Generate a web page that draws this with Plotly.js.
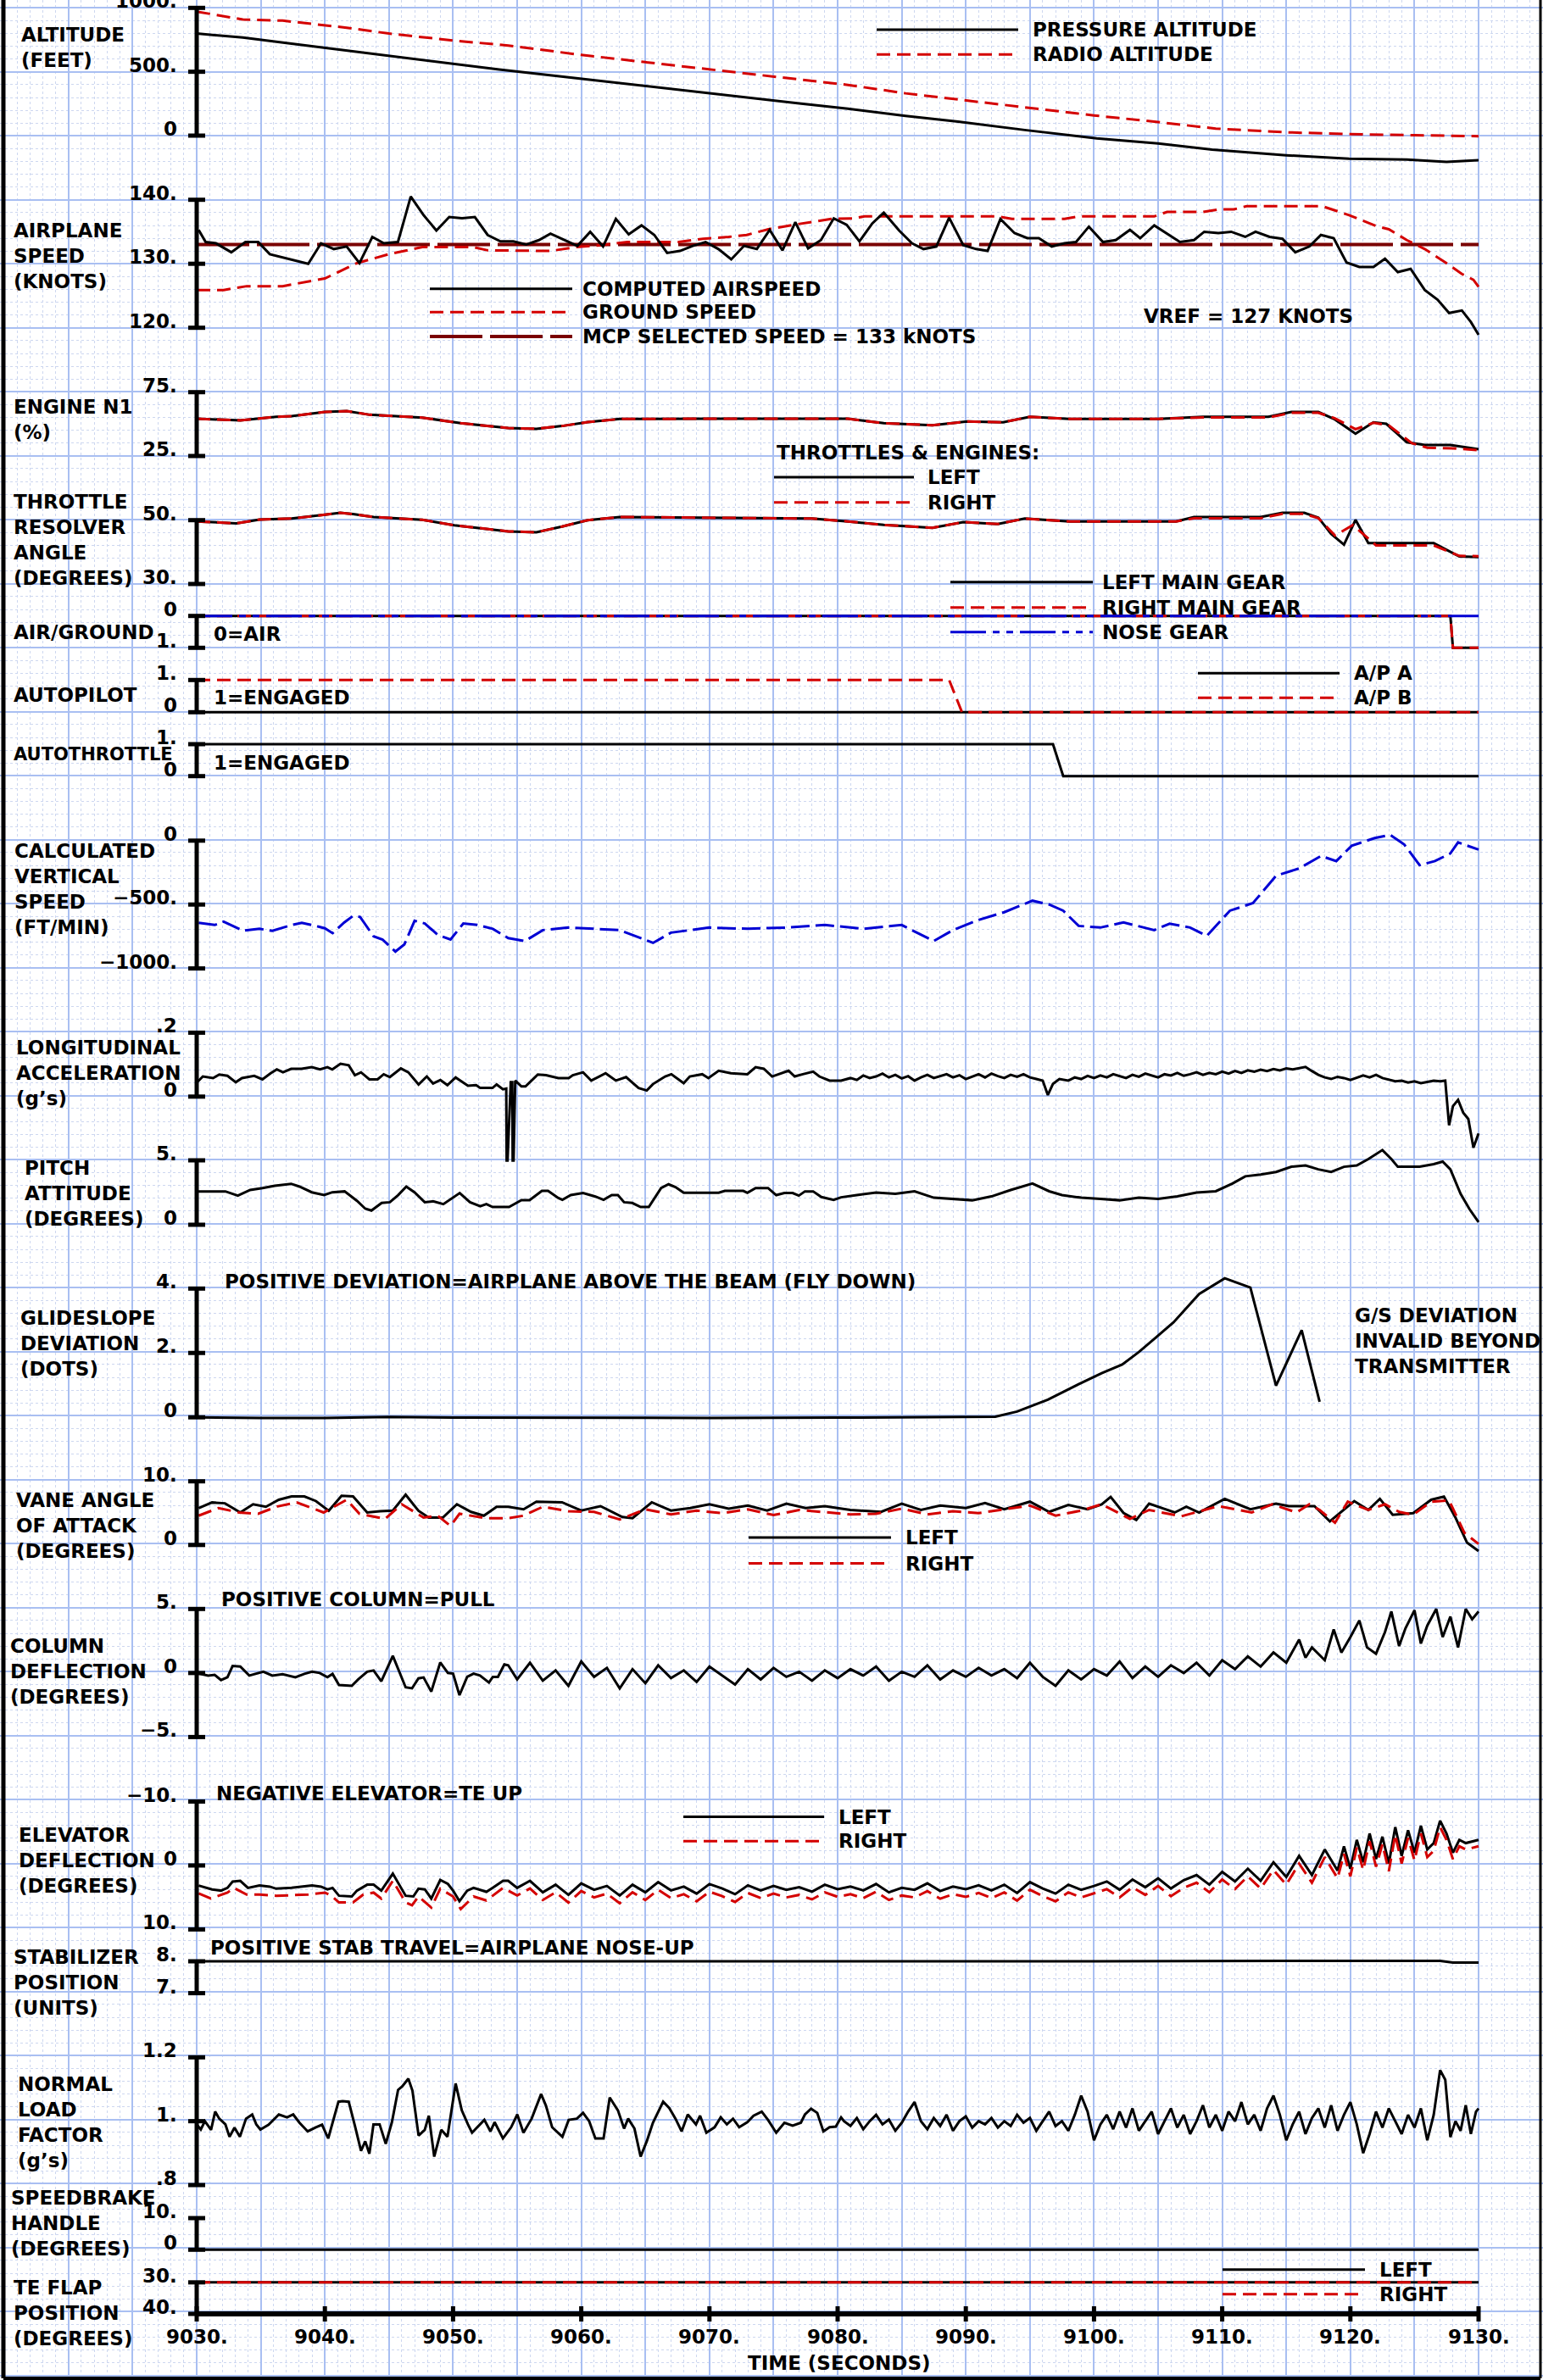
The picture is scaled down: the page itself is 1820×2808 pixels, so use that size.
<!DOCTYPE html>
<html><head><meta charset="utf-8">
<script src="https://cdn.plot.ly/plotly-3.0.1.min.js"></script>
<style>html,body{margin:0;padding:0;background:#fff}</style>
</head><body><div id="chart" style="width:1820px;height:2808px"></div>
<script>
// ================= DATA =================
const timeTicks = [9030,9040,9050,9060,9070,9080,9090,9100,9110,9120,9130];
const timeTickText = ['9030.','9040.','9050.','9060.','9070.','9080.','9090.','9100.','9110.','9120.','9130.'];

const altTicks=[0,500,1000], altTickText=['0','500.','1000.'];
const spdTicks=[120,130,140], spdTickText=['120.','130.','140.'];
const n1Ticks=[25,75], n1TickText=['25.','75.'];
const traTicks=[30,50], traTickText=['30.','50.'];
const agTicks=[0,1], agTickText=['0','1.'];
const apTicks=[0,1], apTickText=['0','1.'];
const atTicks=[0,1], atTickText=['0','1.'];
const vsTicks=[-1000,-500,0], vsTickText=['\u22121000.','\u2212500.','0'];
const laTicks=[0,0.2], laTickText=['0','.2'];
const piTicks=[0,5], piTickText=['0','5.'];
const gsTicks=[0,2,4], gsTickText=['0','2.','4.'];
const aoaTicks=[0,10], aoaTickText=['0','10.'];
const colTicks=[-5,0,5], colTickText=['\u22125.','0','5.'];
const eleTicks=[-10,0,10], eleTickText=['\u221210.','0','10.'];
const stabTicks=[7,8], stabTickText=['7.','8.'];
const nlTicks=[0.8,1,1.2], nlTickText=['.8','1.','1.2'];
const sbTicks=[0,10], sbTickText=['0','10.'];
const flapTicks=[30,40], flapTickText=['30.','40.'];

// [time, value]
const pressureAlt=[[9030,799],[9033.6,768],[9037,725],[9041.7,666],[9045,625],[9050,563],[9053.6,518],[9058,468],[9063,410],[9068,355],[9073,298],[9077,252],[9080.8,210],[9085.3,154],[9089.4,110],[9094.6,44],[9100.2,-22],[9105,-62],[9109.2,-110],[9115,-154],[9119.9,-181],[9124.4,-188],[9127.5,-205],[9130,-192]];
const radioAlt=[[9030,971],[9033.6,909],[9036.7,900],[9041.7,845],[9045,799],[9050,745],[9054.3,705],[9060,632],[9065,575],[9070,518],[9075,462],[9080.8,397],[9085.3,331],[9090.1,276],[9095.3,214],[9100,158],[9105,106],[9109.5,55],[9115,26],[9120,11],[9125,3],[9130,-5]];

const airspeed=[[9030.15,135.3],[9030.7,133.4],[9031.5,133.2],[9032.7,131.8],[9033.8,133.4],[9034.8,133.4],[9035.7,131.5],[9038.7,130.0],[9039.7,133.2],[9040.7,132.3],[9041.7,132.7],[9042.7,130.1],[9043.7,134.2],[9044.6,133.2],[9045.7,133.4],[9046.7,140.5],[9047.7,137.6],[9048.7,135.2],[9049.7,137.3],[9050.7,137.1],[9051.7,137.3],[9052.7,134.5],[9053.7,133.5],[9054.7,133.5],[9055.7,133.0],[9056.7,133.7],[9057.6,134.7],[9058.6,133.8],[9059.7,132.8],[9060.7,135.0],[9061.7,132.7],[9062.7,137.0],[9063.7,134.6],[9064.7,136.0],[9065.7,134.5],[9066.7,131.7],[9067.7,132.0],[9068.7,132.8],[9069.7,133.4],[9070.7,132.3],[9071.7,130.7],[9072.7,132.8],[9073.7,132.3],[9074.7,135.3],[9075.7,132.1],[9076.7,136.5],[9077.7,132.4],[9078.7,133.7],[9079.7,137.1],[9080.7,136.1],[9081.7,133.5],[9082.7,136.3],[9083.6,138.0],[9084.8,135.2],[9085.8,133.2],[9086.7,132.3],[9087.7,132.7],[9088.7,137.2],[9089.8,132.9],[9090.8,132.3],[9091.7,132.0],[9092.7,137.0],[9093.8,134.8],[9094.8,134.0],[9095.7,134.0],[9096.7,132.7],[9097.7,133.2],[9098.6,133.4],[9099.6,135.8],[9100.7,133.4],[9101.7,133.7],[9102.8,135.3],[9103.6,134.0],[9104.7,136.0],[9106.7,133.4],[9107.8,133.7],[9108.6,135.0],[9109.7,134.8],[9110.7,135.0],[9111.8,134.2],[9112.6,135.0],[9113.7,134.2],[9114.7,133.9],[9115.7,131.8],[9116.8,132.7],[9117.7,134.5],[9118.7,134.0],[9119.7,130.2],[9120.7,129.5],[9121.8,129.5],[9122.7,130.8],[9123.7,128.7],[9124.7,129.2],[9125.8,125.9],[9126.8,124.4],[9127.7,122.3],[9128.7,122.7],[9129.4,120.9],[9130,118.9]];
const groundSpeed=[[9030,125.9],[9032.1,125.9],[9033.9,126.5],[9036.7,126.5],[9040,127.7],[9042.5,130.1],[9045,131.5],[9047.6,132.6],[9051.6,132.6],[9052.7,132.1],[9057.6,132.0],[9059.6,132.6],[9061.6,132.9],[9063.6,133.4],[9067.6,133.4],[9069.5,133.9],[9071.5,134.2],[9072.9,134.5],[9074.6,135.4],[9076.6,136.1],[9079.5,137.0],[9081.2,137.1],[9082.1,137.4],[9092.5,137.4],[9093.6,137.0],[9097.7,137.0],[9098.8,137.4],[9104.7,137.4],[9105.7,138.1],[9108.5,138.1],[9109.8,138.5],[9110.9,138.5],[9111.9,139.0],[9117.8,139.0],[9119.9,137.6],[9122,135.9],[9123,135.4],[9124.4,133.7],[9125.8,132.3],[9127.5,130.1],[9128.7,128.4],[9129.6,127.5],[9130,126.4]];
const mcpSpeed=[[9030,133],[9130,133]];

const n1Left=[[9030,54.2],[9033.4,52.9],[9036.2,55.7],[9037.4,56.2],[9040,59.5],[9041.7,60.2],[9043.5,57.3],[9047.6,55.1],[9050.6,50.7],[9054.3,46.9],[9056.5,46.3],[9058.5,48.5],[9060.5,51.5],[9063,54],[9070,54.2],[9078,54.2],[9080.8,54.2],[9083.6,50.7],[9087.4,49.1],[9090.1,52],[9092.9,51.4],[9095,55.7],[9098.1,54],[9105,54],[9108.5,55.7],[9113.6,55.7],[9115.4,59.5],[9117.5,59.5],[9118.8,53.6],[9120.4,42.5],[9121.8,51.4],[9122.8,50.2],[9124.4,35.8],[9125.8,33.6],[9127.8,33.6],[9130,30.3]];
const n1Right=[[9030,54.2],[9033.4,52.9],[9036.2,55.7],[9037.4,56.2],[9040,59.5],[9041.7,60.2],[9043.5,57.3],[9047.6,55.1],[9050.6,50.7],[9054.3,46.9],[9056.5,46.3],[9058.5,48.5],[9060.5,51.5],[9063,54],[9070,54.2],[9078,54.2],[9080.8,54.2],[9083.6,50.7],[9087.4,49.1],[9090.1,52],[9092.9,51.4],[9095,55.7],[9098.1,54],[9105,54],[9108.5,55.2],[9113.6,55.2],[9115.4,58.8],[9117.5,58.8],[9118.8,54.5],[9120.4,46.0],[9121.8,51.0],[9123,49.0],[9124.8,35.0],[9126,31.5],[9128,31.0],[9130,29.5]];
const thrLeft=[[9030,49.6],[9033.1,49.0],[9034.9,50.2],[9037.4,50.5],[9040,51.7],[9041.2,52.3],[9042.2,51.9],[9043.8,51.0],[9047.6,50.1],[9050.1,48.4],[9054.3,46.5],[9056.5,46.2],[9058.5,48.0],[9060.5,50.0],[9063,51.0],[9070,50.8],[9078,50.5],[9080.8,49.6],[9083.6,48.5],[9087.4,47.6],[9089.8,49.4],[9092.5,48.8],[9094.6,50.5],[9098.1,49.6],[9106.4,49.6],[9107.8,51.0],[9113,51.0],[9114.7,52.3],[9116.4,52.3],[9117.5,50.8],[9118.5,45.7],[9119.5,42.3],[9120.4,50.1],[9121.4,42.8],[9126.5,42.8],[9128.5,38.6],[9130,38.4]];
const thrRight=[[9030,49.6],[9033.1,49.0],[9034.9,50.2],[9037.4,50.5],[9040,51.7],[9041.2,52.3],[9042.2,51.9],[9043.8,51.0],[9047.6,50.1],[9050.1,48.4],[9054.3,46.5],[9056.5,46.2],[9058.5,48.0],[9060.5,50.0],[9063,51.0],[9070,50.8],[9078,50.5],[9080.8,49.6],[9083.6,48.5],[9087.4,47.6],[9089.8,49.4],[9092.5,48.8],[9094.6,50.5],[9098.1,49.6],[9106.4,49.6],[9107.8,50.6],[9113,50.6],[9114.7,52.0],[9116.4,52.0],[9117.5,50.6],[9118.8,45.2],[9120.2,48.5],[9122,42.1],[9126.5,42.1],[9128.5,38.8],[9130,38.7]];

const leftMainGear=[[9030,0],[9127.8,0],[9128.0,1],[9130,1]];
const rightMainGear=[[9030,0],[9127.8,0],[9128.0,1],[9130,1]];
const noseGear=[[9030,0],[9130,0]];
const apA=[[9030,0],[9130,0]];
const apB=[[9030,1],[9088.7,1],[9089.7,0],[9130,0]];
const autothrottle=[[9030,1],[9096.8,1],[9097.6,0],[9130,0]];

const vertSpeed=[[9030.15,-643],[9031.4,-660],[9032.1,-634],[9033.6,-704],[9034.9,-690],[9035.9,-706],[9037.4,-660],[9038.2,-643],[9039.5,-673],[9040.0,-686],[9040.6,-724],[9041.5,-641],[9042.2,-589],[9042.75,-597],[9043.8,-749],[9044.5,-774],[9045.5,-868],[9046.2,-812],[9047.0,-627],[9047.8,-648],[9048.8,-737],[9049.8,-774],[9050.8,-648],[9051.9,-660],[9053.1,-690],[9054.3,-762],[9055.6,-786],[9057,-700],[9059,-680],[9061,-690],[9063,-700],[9065.6,-800],[9067,-720],[9070,-680],[9073,-690],[9076,-680],[9079,-660],[9082,-690],[9085,-660],[9087.5,-786],[9089,-700],[9091,-620],[9093,-560],[9095.2,-470],[9096.5,-500],[9097.6,-548],[9098.8,-667],[9100.5,-680],[9102.3,-640],[9104.7,-700],[9105.9,-650],[9107.5,-680],[9108.8,-745],[9109.4,-680],[9110.6,-548],[9112.4,-489],[9114.2,-275],[9116,-218],[9117.7,-120],[9118.9,-160],[9120.1,-40],[9121.9,20],[9123.1,45],[9124.2,-30],[9125.4,-192],[9126.6,-160],[9127.8,-100],[9128.4,-14],[9130,-70]];

const longAccel=[[9030,0.045],[9030.16,0.050],[9030.48,0.063],[9031.28,0.058],[9031.76,0.069],[9032.4,0.065],[9033.05,0.045],[9033.53,0.058],[9034.49,0.065],[9035.13,0.054],[9035.77,0.073],[9036.25,0.085],[9036.73,0.076],[9037.37,0.087],[9038.18,0.087],[9038.98,0.092],[9039.62,0.085],[9040.2,0.092],[9040.58,0.085],[9041.22,0.103],[9041.86,0.098],[9042.34,0.067],[9042.82,0.076],[9043.47,0.054],[9044.11,0.054],[9044.59,0.070],[9045.07,0.061],[9045.93,0.088],[9046.51,0.076],[9047.31,0.038],[9047.95,0.063],[9048.44,0.041],[9049.01,0.052],[9049.56,0.036],[9050.2,0.060],[9051.16,0.034],[9051.8,0.036],[9052.12,0.027],[9053.08,0.027],[9053.4,0.038],[9053.89,0.023],[9054.15,0.025],[9054.18,-0.2],[9054.25,-0.2],[9054.5,0.045],[9054.62,0.045],[9054.65,-0.2],[9054.72,-0.2],[9054.85,0.050],[9055.33,0.032],[9055.65,0.032],[9056.61,0.069],[9057.25,0.067],[9058.21,0.058],[9059.02,0.058],[9059.34,0.067],[9060.14,0.076],[9060.78,0.050],[9061.9,0.073],[9062.7,0.050],[9063.5,0.061],[9064.47,0.027],[9065.11,0.019],[9065.59,0.039],[9066.55,0.063],[9067.03,0.070],[9067.99,0.042],[9068.47,0.063],[9069.44,0.070],[9069.92,0.058],[9070.72,0.081],[9071.68,0.073],[9072.96,0.070],[9073.6,0.092],[9074.24,0.087],[9074.89,0.063],[9076.17,0.081],[9076.65,0.063],[9077.29,0.070],[9078.09,0.078],[9078.57,0.063],[9079.37,0.050],[9080.27,0.050],[9081,0.058],[9081.5,0.052],[9082,0.066],[9082.5,0.058],[9083,0.063],[9083.5,0.072],[9084,0.060],[9084.5,0.068],[9085,0.057],[9085.5,0.064],[9086,0.050],[9086.5,0.060],[9087,0.068],[9087.5,0.058],[9088,0.065],[9088.5,0.070],[9089,0.060],[9089.5,0.067],[9090,0.055],[9090.5,0.063],[9091,0.070],[9091.5,0.060],[9092,0.072],[9092.5,0.064],[9093,0.058],[9093.5,0.068],[9094,0.062],[9094.5,0.070],[9095,0.060],[9095.5,0.055],[9096,0.050],[9096.4,0.005],[9096.8,0.040],[9097.3,0.055],[9098,0.050],[9098.5,0.060],[9099,0.055],[9099.5,0.065],[9100,0.058],[9100.5,0.066],[9101,0.060],[9101.5,0.070],[9102,0.064],[9102.5,0.058],[9103,0.068],[9103.5,0.062],[9104,0.072],[9104.5,0.065],[9105,0.060],[9105.5,0.070],[9106,0.066],[9106.5,0.074],[9107,0.065],[9107.5,0.070],[9108,0.076],[9108.5,0.068],[9109,0.074],[9109.5,0.070],[9110,0.078],[9110.5,0.072],[9111,0.080],[9111.5,0.074],[9112,0.082],[9112.5,0.078],[9113,0.084],[9113.5,0.080],[9114,0.086],[9114.5,0.082],[9115,0.088],[9115.5,0.085],[9116,0.090],[9116.5,0.093],[9117,0.080],[9117.5,0.068],[9118,0.060],[9118.5,0.055],[9119,0.062],[9119.5,0.058],[9120,0.052],[9120.5,0.060],[9121,0.066],[9121.5,0.060],[9122,0.068],[9122.5,0.058],[9123,0.052],[9123.5,0.048],[9124,0.050],[9124.5,0.044],[9125,0.048],[9125.5,0.042],[9126,0.046],[9126.5,0.050],[9127,0.048],[9127.4,0.050],[9127.7,-0.09],[9128.0,-0.03],[9128.4,-0.01],[9128.8,-0.05],[9129.2,-0.07],[9129.6,-0.16],[9130,-0.115]];

const pitch=[[9030,2.59],[9032.24,2.59],[9033.21,2.26],[9034.17,2.70],[9035.13,2.85],[9036.09,3.03],[9037.37,3.18],[9038.02,2.96],[9038.98,2.52],[9039.94,2.30],[9040.58,2.52],[9041.54,2.59],[9042.5,1.86],[9043.15,1.25],[9043.63,1.10],[9044.43,1.69],[9045.07,1.75],[9045.71,2.30],[9046.35,2.96],[9046.99,2.52],[9047.79,1.75],[9048.44,1.82],[9049.24,1.60],[9050.52,2.46],[9051.32,1.75],[9052.12,1.43],[9052.6,1.60],[9053.08,1.38],[9054.37,1.38],[9055.33,1.91],[9055.97,1.91],[9056.93,2.63],[9057.41,2.63],[9058.21,2.08],[9058.53,1.93],[9059.18,2.30],[9060.14,2.46],[9061.1,2.19],[9061.74,1.93],[9062.38,2.30],[9062.86,2.30],[9063.34,1.75],[9063.98,1.69],[9064.63,1.38],[9065.27,1.38],[9066.23,2.85],[9066.81,3.14],[9067.35,2.92],[9067.99,2.48],[9070.72,2.48],[9071.2,2.63],[9072.64,2.63],[9072.96,2.48],[9073.6,2.85],[9074.57,2.85],[9075.21,2.30],[9075.85,2.46],[9076.49,2.46],[9076.97,2.26],[9077.45,2.59],[9078.09,2.59],[9078.73,2.15],[9079.69,1.93],[9080.27,2.13],[9081.5,2.3],[9083,2.5],[9084.5,2.4],[9086,2.6],[9087.5,2.1],[9089,2.0],[9090.5,1.9],[9092,2.2],[9093.5,2.7],[9095.2,3.2],[9096.5,2.6],[9097.5,2.3],[9099,2.1],[9100.5,2.0],[9102,1.9],[9103.5,2.1],[9105,2.0],[9106.5,2.2],[9108,2.5],[9109.5,2.6],[9110.8,3.2],[9111.8,3.76],[9113,3.9],[9114.2,4.1],[9115.4,4.5],[9116.5,4.6],[9117.5,4.3],[9118.5,4.1],[9119.5,4.5],[9120.5,4.6],[9121.4,5.1],[9122.5,5.8],[9123.2,5.1],[9123.7,4.5],[9125.4,4.5],[9126.5,4.7],[9127.2,4.9],[9127.8,4.3],[9128.6,2.4],[9129.3,1.2],[9130,0.2]];

const glideslope=[[9030,0],[9035,-0.02],[9040,-0.02],[9045,0.01],[9050,-0.01],[9060,-0.02],[9070,-0.02],[9080,-0.01],[9090,0.0],[9092.3,0.02],[9094,0.18],[9096.4,0.55],[9098.8,1.03],[9100.6,1.37],[9102.2,1.64],[9103.5,2.03],[9104.8,2.47],[9106.2,2.95],[9108.2,3.83],[9110.2,4.32],[9112.2,4.03],[9114.2,0.98],[9116.2,2.71],[9117.6,0.48]];

const aoaLeft=[[9030.15,5.79],[9031.2,6.68],[9032.2,6.55],[9033.4,5.1],[9034.4,6.4],[9035.4,6.0],[9036.4,7.1],[9037.4,7.63],[9038.4,7.63],[9039.3,6.9],[9040.3,5.37],[9041.3,7.72],[9042.2,7.63],[9043.3,5.1],[9044.3,5.3],[9045.3,5.4],[9046.3,7.9],[9047.3,5.37],[9048.1,4.3],[9049.2,4.3],[9050.3,6.4],[9051.4,5.2],[9052.4,4.6],[9053.4,6.0],[9054.3,6.0],[9055.5,5.6],[9056.5,6.8],[9058.5,6.7],[9060,5.4],[9061.5,6.1],[9063.2,4.4],[9064,4.2],[9065.5,6.7],[9067,5.4],[9068.5,5.8],[9070,6.4],[9071.5,5.7],[9073,6.2],[9074.5,5.4],[9076,6.5],[9077.5,5.8],[9079,6.1],[9081,5.5],[9083.4,5.2],[9085,6.5],[9086.5,5.5],[9088,6.2],[9090,5.8],[9091.5,6.6],[9093,5.6],[9095,6.8],[9096.5,5.2],[9098,6.3],[9099.5,5.6],[9100.6,6.37],[9101.3,7.56],[9102.3,5.03],[9103.3,3.92],[9104.3,6.5],[9106.3,5.1],[9107.2,6.0],[9108.2,5.1],[9110.2,7.25],[9112.2,5.6],[9114.2,6.5],[9115.2,6.1],[9117.2,6.1],[9118.4,3.7],[9120.3,6.9],[9121.4,5.5],[9122.3,7.25],[9123.3,4.75],[9124.9,5.0],[9126.3,7.1],[9127.3,7.6],[9128.2,4.3],[9129.1,0.37],[9130,-0.96]];
const aoaRight=[[9030.15,4.6],[9031.7,5.8],[9033.3,5.1],[9034.8,4.9],[9036.3,6.05],[9037.8,6.7],[9039.9,5.1],[9041.7,7.1],[9042.7,4.9],[9044.7,4.1],[9046,6.4],[9047.7,4.3],[9048.8,4.6],[9049.8,3.0],[9050.5,4.9],[9052.6,4.2],[9054.3,4.2],[9055.5,4.6],[9057,6.0],[9059,5.3],[9061,5.2],[9063,4.0],[9065,5.6],[9067,4.8],[9069,5.4],[9071,5.0],[9073,5.6],[9075,4.7],[9077,5.5],[9079,5.1],[9081,4.8],[9083,4.9],[9085,5.7],[9087,4.8],[9089,5.3],[9091,5.0],[9093,5.6],[9095,6.2],[9097,4.6],[9099,5.4],[9100.6,6.4],[9102.8,4.1],[9104.3,5.5],[9106.8,4.5],[9109.7,6.1],[9112.3,5.1],[9113.9,6.4],[9115.8,5.1],[9116.8,6.4],[9117.6,5.5],[9118.8,3.5],[9119.8,6.8],[9121.4,5.5],[9122.7,6.4],[9123.8,5.2],[9124.9,4.75],[9126.3,6.8],[9127.7,7.0],[9128.9,1.9],[9130,0.15]];

const column=[[9030.1,-0.03],[9030.9,-0.2],[9031.4,-0.15],[9031.9,-0.55],[9032.4,-0.33],[9032.8,0.55],[9033.4,0.5],[9034.1,-0.2],[9035.2,0.1],[9035.9,-0.2],[9036.7,-0.1],[9037.7,-0.33],[9038.4,-0.07],[9039.0,0.1],[9039.6,0.0],[9040.2,-0.33],[9040.6,-0.07],[9041.1,-0.94],[9042.1,-1.0],[9042.6,-0.5],[9043.3,0.1],[9043.8,0.2],[9044.4,-0.65],[9045.3,1.34],[9046.3,-1.12],[9046.8,-1.2],[9047.3,-0.42],[9047.7,-0.35],[9048.3,-1.46],[9049.0,0.82],[9049.6,0.0],[9050.0,-0.05],[9050.5,-1.73],[9051.1,-0.3],[9051.6,-0.05],[9052.1,-0.2],[9052.8,-0.75],[9053.1,-0.3],[9053.5,-0.3],[9054.0,0.67],[9054.3,0.6],[9055,-0.5],[9056,0.8],[9057,-0.6],[9058,0.2],[9059,-1.0],[9060,0.9],[9061,-0.3],[9062,0.4],[9063,-1.2],[9064,0.3],[9065,-0.8],[9066,0.6],[9067,-0.4],[9068,0.2],[9069,-0.7],[9070,0.5],[9071,-0.2],[9072,-0.9],[9073,0.3],[9074,-0.5],[9075,0.4],[9076,-0.3],[9077,0.1],[9078,-0.6],[9079,0.2],[9080,-0.4],[9081,0.3],[9082,-0.2],[9083,0.5],[9084,-0.6],[9085,0.1],[9086,-0.3],[9087,0.6],[9088,-0.5],[9089,0.2],[9090,-0.3],[9091,0.4],[9092,-0.2],[9093,0.3],[9094,-0.4],[9095,0.8],[9096,-0.3],[9097,-1.0],[9098,0.2],[9099,-0.5],[9100,0.3],[9101,-0.2],[9102,0.9],[9103,-0.4],[9104,0.5],[9105,-0.3],[9106,0.6],[9107,0.0],[9108,0.8],[9109,-0.2],[9110,1.0],[9111,0.3],[9112,1.3],[9113,0.5],[9114,1.6],[9115,0.8],[9116,2.6],[9116.5,1.2],[9117,2.0],[9118,1.0],[9118.7,3.4],[9119.3,1.6],[9120,2.8],[9120.7,4.1],[9121.3,2.0],[9122,1.5],[9122.7,3.2],[9123.2,4.8],[9123.8,2.1],[9124.3,3.5],[9125,4.9],[9125.5,2.3],[9126,3.7],[9126.7,5.0],[9127.2,2.8],[9127.8,4.4],[9128.4,2.0],[9129,5.0],[9129.5,4.2],[9130,4.8]];

const elevLeft=[[9030.15,3.13],[9030.9,3.5],[9031.2,3.75],[9031.9,3.93],[9032.4,3.5],[9032.8,2.52],[9033.4,2.4],[9034.0,3.5],[9034.9,3.13],[9035.7,3.31],[9036.2,3.63],[9037.4,3.5],[9039.0,3.13],[9039.7,3.31],[9040.2,3.75],[9040.6,3.5],[9041.1,4.73],[9042.1,4.85],[9042.5,3.93],[9043.3,3.0],[9043.8,3.0],[9044.4,3.93],[9045.3,1.28],[9046.3,4.73],[9046.9,4.85],[9047.3,3.63],[9047.8,3.75],[9048.3,5.17],[9049.0,2.26],[9049.6,2.89],[9050.0,3.93],[9050.5,5.59],[9051.1,3.93],[9051.6,3.5],[9052.6,4.12],[9053.1,3.5],[9053.9,2.4],[9054.3,2.4],[9055,3.5],[9056,2.4],[9057,4.2],[9058,3.0],[9059,4.6],[9060,2.8],[9061,3.8],[9062,3.2],[9063,4.7],[9064,3.0],[9065,4.2],[9066,2.6],[9067,3.9],[9068,3.3],[9069,4.4],[9070,2.9],[9071,3.6],[9072,4.5],[9073,3.1],[9074,3.9],[9075,3.2],[9076,3.8],[9077,3.4],[9078,4.1],[9079,3.0],[9080,3.7],[9081,3.3],[9082,3.9],[9083,2.9],[9084,4.2],[9085,3.5],[9086,3.8],[9087,2.8],[9088,4.0],[9089,3.3],[9090,3.7],[9091,3.1],[9092,3.9],[9093,3.0],[9094,4.3],[9095,2.6],[9096,3.6],[9097,4.4],[9098,3.0],[9099,3.8],[9100,3.2],[9101,2.5],[9102,3.8],[9103,2.2],[9104,3.4],[9105,2.0],[9106,3.6],[9107,2.3],[9108,1.5],[9109,3.0],[9110,1.0],[9111,2.5],[9112,0.5],[9113,2.4],[9114,-0.5],[9115,1.8],[9116,-1.5],[9117,1.5],[9118,-2.5],[9119,0.8],[9119.5,-3.0],[9120,0.5],[9120.5,-4.0],[9121,-0.5],[9121.5,-5.0],[9122,-1.0],[9122.5,-4.5],[9123,-0.3],[9123.5,-6.0],[9124,-1.5],[9124.5,-5.5],[9125,-2.0],[9125.5,-6.2],[9126,-2.5],[9126.5,-3.5],[9127,-7.0],[9127.5,-5.0],[9128,-2.0],[9128.5,-4.0],[9129,-3.5],[9130,-4.0]];
const elevRight=[[9030.15,4.36],[9031.1,5.17],[9032.4,4.24],[9032.9,3.5],[9033.9,4.55],[9034.9,4.55],[9036.2,4.73],[9038.7,4.55],[9040.0,4.24],[9040.5,4.73],[9041.1,5.78],[9042.2,5.78],[9043.0,4.55],[9043.8,4.24],[9044.4,5.17],[9045.3,2.4],[9046.3,5.78],[9046.8,6.22],[9047.3,4.85],[9048.3,6.58],[9049.0,3.63],[9050.0,4.85],[9050.6,6.82],[9051.6,4.85],[9052.6,5.47],[9053.9,3.5],[9055,4.7],[9056,3.6],[9057,5.4],[9058,4.2],[9059,5.8],[9060,4.0],[9061,5.0],[9062,4.4],[9063,5.9],[9064,4.2],[9065,5.4],[9066,3.8],[9067,5.1],[9068,4.5],[9069,5.6],[9070,4.1],[9071,4.8],[9072,5.7],[9073,4.3],[9074,5.1],[9075,4.4],[9076,5.0],[9077,4.6],[9078,5.3],[9079,4.2],[9080,4.9],[9081,4.5],[9082,5.1],[9083,4.1],[9084,5.4],[9085,4.7],[9086,5.0],[9087,4.0],[9088,5.2],[9089,4.5],[9090,4.9],[9091,4.3],[9092,5.1],[9093,4.2],[9094,5.5],[9095,3.8],[9096,4.8],[9097,5.6],[9098,4.2],[9099,5.0],[9100,4.4],[9101,3.7],[9102,5.0],[9103,3.4],[9104,4.6],[9105,3.2],[9106,4.8],[9107,3.5],[9108,2.7],[9109,4.2],[9110,2.2],[9111,3.7],[9112,1.7],[9113,3.6],[9114,0.7],[9115,3.0],[9116,-0.3],[9117,2.7],[9118,-1.3],[9119,2.0],[9119.5,-1.8],[9120,1.7],[9120.5,-2.8],[9121,0.7],[9121.5,-3.8],[9122,0.2],[9122.5,-3.3],[9123,0.9],[9123.5,-4.8],[9124,-0.3],[9124.5,-4.3],[9125,-0.8],[9125.5,-5.0],[9126,-1.3],[9126.5,-2.3],[9127,-6.0],[9127.5,-4.0],[9128,-1.0],[9128.5,-3.0],[9129,-2.5],[9130,-3.0]];

const stabilizer=[[9030,8.0],[9050,8.0],[9060,7.99],[9075,7.99],[9100,8.0],[9115,8.01],[9125,8.0],[9127,8.01],[9128,7.96],[9130,7.96]];

const normalLoad=[[9030.0,0.990],[9030.32,0.974],[9030.64,1.0],[9031.12,0.973],[9031.44,1.03],[9031.76,1.008],[9032.24,0.99],[9032.56,0.951],[9032.95,0.98],[9033.37,0.951],[9033.85,1.008],[9034.33,1.021],[9034.65,0.99],[9034.97,0.974],[9035.61,0.989],[9036.41,1.021],[9037.05,1.012],[9037.53,1.021],[9038.02,0.995],[9038.66,0.968],[9039.3,0.981],[9039.78,0.989],[9040.26,0.946],[9041.06,1.061],[9041.38,1.063],[9041.86,1.061],[9042.34,0.986],[9042.82,0.907],[9043.15,0.937],[9043.47,0.898],[9043.79,0.99],[9044.27,0.99],[9044.75,0.929],[9045.23,0.997],[9045.71,1.098],[9046.03,1.109],[9046.51,1.133],[9046.83,1.096],[9047.31,0.955],[9047.79,0.973],[9048.11,1.017],[9048.53,0.889],[9049.08,0.973],[9049.56,0.951],[9050.2,1.118],[9050.68,1.034],[9051.16,0.99],[9051.48,0.964],[9052.44,1.004],[9052.92,0.968],[9053.24,0.997],[9053.89,0.946],[9054.53,0.981],[9055.01,1.021],[9055.49,0.964],[9056.13,1.008],[9056.87,1.085],[9057.25,1.048],[9057.73,0.981],[9058.53,0.951],[9059.02,1.004],[9059.66,1.008],[9060.14,1.026],[9060.62,1.0],[9061.1,0.946],[9061.74,0.946],[9062.22,1.074],[9062.86,1.034],[9063.34,0.977],[9063.66,1.008],[9064.15,0.977],[9064.63,0.889],[9065.11,0.937],[9065.59,0.995],[9066.39,1.061],[9066.87,1.041],[9067.35,1.008],[9067.83,0.968],[9068.31,1.021],[9068.95,0.99],[9069.27,1.017],[9069.76,0.964],[9070.4,0.981],[9070.88,1.012],[9071.36,0.99],[9071.84,1.008],[9072.32,0.981],[9072.96,0.997],[9073.44,1.017],[9074.08,1.030],[9074.57,1.004],[9075.21,0.964],[9075.85,0.995],[9076.49,0.986],[9077.13,0.995],[9077.45,1.021],[9077.93,1.039],[9078.41,1.026],[9078.89,0.968],[9079.37,0.981],[9079.86,0.983],[9080.27,1.012],[9080.5,1.0],[9081,0.985],[9081.5,1.01],[9082,0.975],[9082.5,1.0],[9083,1.02],[9083.5,0.99],[9084,1.005],[9084.5,0.97],[9085,0.995],[9085.5,1.03],[9086,1.06],[9086.5,1.0],[9087,0.975],[9087.5,1.01],[9088,0.985],[9088.5,1.02],[9089,0.97],[9089.5,1.0],[9090,1.015],[9090.5,0.98],[9091,1.0],[9091.5,0.99],[9092,1.01],[9092.5,0.98],[9093,1.0],[9093.5,0.985],[9094,1.02],[9094.5,0.995],[9095,1.01],[9095.5,0.97],[9096,1.0],[9096.5,1.03],[9097,0.985],[9097.5,1.0],[9098,0.97],[9098.5,1.02],[9099,1.08],[9099.5,1.03],[9100,0.94],[9100.5,0.99],[9101,1.02],[9101.5,0.975],[9102,1.03],[9102.5,0.98],[9103,1.04],[9103.5,0.97],[9104,1.0],[9104.5,1.03],[9105,0.96],[9105.5,1.0],[9106,1.04],[9106.5,0.98],[9107,1.02],[9107.5,0.96],[9108,1.0],[9108.5,1.05],[9109,0.98],[9109.5,1.02],[9110,0.97],[9110.5,1.03],[9111,1.0],[9111.5,1.06],[9112,0.99],[9112.5,1.02],[9113,0.97],[9113.5,1.04],[9114,1.08],[9114.5,1.02],[9115,0.94],[9115.5,0.99],[9116,1.03],[9116.5,0.96],[9117,1.01],[9117.5,1.04],[9118,0.98],[9118.5,1.05],[9119,0.97],[9119.5,1.02],[9120,1.06],[9120.5,0.99],[9121,0.90],[9121.5,0.96],[9122,1.03],[9122.5,0.98],[9123,1.04],[9123.5,1.0],[9124,0.96],[9124.5,1.02],[9125,0.98],[9125.5,1.04],[9126,0.94],[9126.5,1.02],[9127,1.16],[9127.4,1.13],[9127.8,0.95],[9128.2,1.0],[9128.6,0.97],[9129,1.05],[9129.4,0.96],[9129.8,1.03],[9130,1.04]];

const speedbrake=[[9030,0],[9130,0]];
const flapLeft=[[9030,30],[9130,30]];
const flapRight=[[9030,30],[9130,30]];

// ================= LAYOUT GEOMETRY =================
const W=1820, H=2808;
const T0PX=232, PXPS=15.12;           // pixel of first time tick, pixels per second
const tAtPx = px => timeTicks[0] + (px - T0PX)/PXPS;
const fx = px => px/W;
const fy = py => 1 - py/H;

const BLACK='#000000', RED='#d40000', DKRED='#7a0000', BLUE='#0000d4';
const GRID='#a9bff2', MINOR='#cdd7f0';
const FONT='DejaVu Sans';
const FS=23;

// panel geometry: pixel of first & last tick, domain pixels [top,bottom]
const panels=[
 {ticks:altTicks, text:altTickText, p:[160,9.3], dom:[0,215]},
 {ticks:spdTicks, text:spdTickText, p:[386.7,235.7], dom:[215,420]},
 {ticks:n1Ticks, text:n1TickText, p:[538,462.7], dom:[440,560]},
 {ticks:traTicks, text:traTickText, p:[689,613.7], dom:[590,700]},
 {ticks:agTicks, text:agTickText, p:[726.7,764.3], dom:[712,778]},
 {ticks:apTicks, text:apTickText, p:[840.3,802.3], dom:[788,852]},
 {ticks:atTicks, text:atTickText, p:[915.7,878], dom:[864,928]},
 {ticks:vsTicks, text:vsTickText, p:[1142.6,991.8], dom:[960,1160]},
 {ticks:laTicks, text:laTickText, p:[1293.8,1218.4], dom:[1190,1385]},
 {ticks:piTicks, text:piTickText, p:[1445,1369], dom:[1330,1462]},
 {ticks:gsTicks, text:gsTickText, p:[1672.2,1520.3], dom:[1490,1700]},
 {ticks:aoaTicks, text:aoaTickText, p:[1822.8,1747.7], dom:[1720,1852]},
 {ticks:colTicks, text:colTickText, p:[2049.4,1898.3], dom:[1878,2070]},
 {ticks:eleTicks, text:eleTickText, p:[2125.5,2276.4], dom:[2108,2292]},
 {ticks:stabTicks, text:stabTickText, p:[2351.6,2314], dom:[2300,2366]},
 {ticks:nlTicks, text:nlTickText, p:[2578,2427.3], dom:[2400,2592]},
 {ticks:sbTicks, text:sbTickText, p:[2654.3,2617], dom:[2604,2666]},
 {ticks:flapTicks, text:flapTickText, p:[2692.8,2730], dom:[2680,2742]}
];

const layout={
  width:W, height:H, margin:{l:0,r:0,t:0,b:0,pad:0},
  paper_bgcolor:'#ffffff', plot_bgcolor:'rgba(0,0,0,0)',
  showlegend:false, hovermode:false,
  font:{family:FONT, size:FS, color:'#000'},
  xaxis:{domain:[0,1], range:[tAtPx(0), tAtPx(W)], anchor:'y', tickmode:'linear', tick0:timeTicks[0], dtick:5,
         showgrid:true, gridcolor:GRID, gridwidth:2, showticklabels:false, ticks:'', zeroline:false, showline:false,
         minor:{tickmode:'linear', tick0:timeTicks[0], dtick:1, showgrid:true, gridcolor:MINOR, gridwidth:1, griddash:'dot', ticks:''}},
  yaxis:{domain:[0,1], range:[-H,0], anchor:'x', tickmode:'linear', tick0:-9.3, dtick:75.5,
         showgrid:true, gridcolor:GRID, gridwidth:2, showticklabels:false, ticks:'', zeroline:false, showline:false,
         minor:{tickmode:'linear', tick0:-9.3, dtick:15.1, showgrid:true, gridcolor:MINOR, gridwidth:1, griddash:'dot', ticks:''}},
  xaxis2:{domain:[0,1], range:[tAtPx(0), tAtPx(W)], anchor:'free', position:0, visible:false},
  shapes:[], annotations:[]
};

const traces=[{x:[timeTicks[0]], y:[-H*2], xaxis:'x', yaxis:'y', mode:'lines', line:{color:'rgba(0,0,0,0)'}}];

panels.forEach((pn,i)=>{
  const n=i+3, key='yaxis'+n, id='y'+n;
  pn.id=id;
  const v0=pn.ticks[0], v1=pn.ticks[pn.ticks.length-1];
  const s=(v1-v0)/(pn.p[1]-pn.p[0]);
  const valAt=px=>v0+(px-pn.p[0])*s;
  layout[key]={domain:[fy(pn.dom[1]), fy(pn.dom[0])], range:[valAt(pn.dom[1]), valAt(pn.dom[0])],
               anchor:'free', position:0, visible:false, showgrid:false, zeroline:false};
  layout.shapes.push({type:'line', xref:'x2', yref:id, x0:timeTicks[0], x1:timeTicks[0],
                      y0:Math.min(v0,v1), y1:Math.max(v0,v1), line:{color:BLACK,width:5}});
  pn.ticks.forEach((v,k)=>{
    layout.shapes.push({type:'line', xref:'paper', yref:id, x0:fx(222), x1:fx(242), y0:v, y1:v, line:{color:BLACK,width:5}});
    layout.annotations.push({xref:'paper', yref:id, x:fx(210), y:v, yshift:8, xanchor:'right', yanchor:'middle',
       text:pn.text[k], showarrow:false, borderpad:0, font:{family:FONT,size:FS,color:BLACK,weight:'bold'}});
  });
});

function line(data, panelIdx, color, dash, width){
  traces.push({x:data.map(d=>d[0]), y:data.map(d=>d[1]), xaxis:'x2', yaxis:panels[panelIdx].id,
    mode:'lines', line:{color:color, width:width||3, dash:dash||'solid'}});
}
const DASH='16px,8px', LONGDASH='62px,9px', VSDASH='22px,7px', DASHDOT='42px,8px,8px,8px,8px,8px';

line(pressureAlt,0,BLACK); line(radioAlt,0,RED,DASH);
line(mcpSpeed,1,DKRED,LONGDASH,4); line(groundSpeed,1,RED,DASH); line(airspeed,1,BLACK);
line(n1Left,2,BLACK); line(n1Right,2,RED,DASH);
line(thrLeft,3,BLACK); line(thrRight,3,RED,DASH);
line(leftMainGear,4,BLACK); line(rightMainGear,4,RED,DASH); line(noseGear,4,BLUE,DASHDOT);
line(apA,5,BLACK); line(apB,5,RED,DASH);
line(autothrottle,6,BLACK);
line(vertSpeed,7,BLUE,VSDASH);
line(longAccel,8,BLACK);
line(pitch,9,BLACK);
line(glideslope,10,BLACK);
line(aoaLeft,11,BLACK); line(aoaRight,11,RED,DASH);
line(column,12,BLACK);
line(elevLeft,13,BLACK); line(elevRight,13,RED,DASH);
line(stabilizer,14,BLACK);
line(normalLoad,15,BLACK);
line(speedbrake,16,BLACK);
line(flapLeft,17,BLACK); line(flapRight,17,RED,DASH);

// time axis (bottom)
const AXY=2730;
layout.shapes.push({type:'line', xref:'x2', yref:'paper', x0:timeTicks[0], x1:timeTicks[timeTicks.length-1], y0:fy(AXY), y1:fy(AXY), line:{color:BLACK,width:6}});
timeTicks.forEach((t,k)=>{
  layout.shapes.push({type:'line', xref:'x2', yref:'paper', x0:t, x1:t, y0:fy(AXY-9), y1:fy(AXY+9), line:{color:BLACK,width:5}});
  layout.annotations.push({xref:'x2', yref:'paper', x:t, y:fy(2757), xanchor:'center', yanchor:'middle', text:timeTickText[k],
    showarrow:false, borderpad:0, font:{family:FONT,size:FS,color:BLACK,weight:'bold'}});
});

// page border
layout.shapes.push({type:'line', xref:'paper', yref:'paper', x0:fx(4), x1:fx(4), y0:fy(0), y1:fy(2806), line:{color:BLACK,width:5}});
layout.shapes.push({type:'line', xref:'paper', yref:'paper', x0:fx(4), x1:fx(1817), y0:fy(2806), y1:fy(2806), line:{color:BLACK,width:4}});
layout.shapes.push({type:'line', xref:'paper', yref:'paper', x0:fx(1817), x1:fx(1817), y0:fy(0), y1:fy(2806), line:{color:BLACK,width:3}});

// text helpers
function txt(text, xpx, ypx, anchor, size){
  layout.annotations.push({xref:'paper', yref:'paper', x:fx(xpx), y:fy(ypx), xanchor:anchor||'left', yanchor:'middle',
    align:'left', text:text, showarrow:false, borderpad:0, font:{family:FONT,size:size||FS,color:BLACK,weight:'bold'}});
}
function block(lines, xpx, yFirst, yLast, size){ txt(lines.join('<br>'), xpx, (yFirst+(yLast===undefined?yFirst:yLast))/2, 'left', size); }
function legendLine(x0,x1,ypx,color,dash,width){
  layout.shapes.push({type:'line', xref:'paper', yref:'paper', x0:fx(x0), x1:fx(x1), y0:fy(ypx), y1:fy(ypx),
    line:{color:color, width:width||3, dash:dash||'solid'}});
}

// panel titles
block(['ALTITUDE','(FEET)'],24,41.7,70.7);
block(['AIRPLANE','SPEED','(KNOTS)'],14.5,272.7,330.7);
block(['ENGINE N1','(%)'],14.5,480.7,510);
block(['THROTTLE','RESOLVER','ANGLE','(DEGREES)'],14.5,594,681);
block(['AIR/GROUND'],14.5,745.7);
block(['AUTOPILOT'],14.5,820);
block(['AUTOTHROTTLE'],14.5,890,undefined,21);
block(['CALCULATED','VERTICAL','SPEED','(FT/MIN)'],16,1004,1093.3);
block(['LONGITUDINAL','ACCELERATION','(g\u2019s)'],18.4,1236.8,1296);
block(['PITCH','ATTITUDE','(DEGREES)'],27.6,1378.4,1437);
block(['GLIDESLOPE','DEVIATION','(DOTS)'],23,1556.3,1614.4);
block(['VANE ANGLE','OF ATTACK','(DEGREES)'],18.4,1770.6,1828.7);
block(['COLUMN','DEFLECTION','(DEGREES)'],10.7,1942.6,2001);
block(['ELEVATOR','DEFLECTION','(DEGREES)'],21,2165.9,2224.8);
block(['STABILIZER','POSITION','(UNITS)'],14.5,2309.8,2367.8);
block(['NORMAL','LOAD','FACTOR','(g\u2019s)'],20,2459.8,2548.9);
block(['SPEEDBRAKE','HANDLE','(DEGREES)'],11.5,2594,2651);
block(['TE FLAP','POSITION','(DEGREES)'],15.3,2699.8,2757.8);

// legends & notes
legendLine(1034,1201,35,BLACK); txt('PRESSURE ALTITUDE',1217,35);
legendLine(1034,1201,64.3,RED,DASH); txt('RADIO ALTITUDE',1217,64.3);
legendLine(507,675,340.7,BLACK); txt('COMPUTED AIRSPEED',686,340.7);
legendLine(507,675,368.3,RED,DASH); txt('GROUND SPEED',686,368.3);
legendLine(507,675,397,DKRED,LONGDASH,4); txt('MCP SELECTED SPEED = 133 kNOTS',686,397);
txt('VREF = 127 KNOTS',1348,372.7);
txt('THROTTLES & ENGINES:',915,533.5);
legendLine(913,1078,563,BLACK); txt('LEFT',1093,563);
legendLine(913,1078,592.7,RED,DASH); txt('RIGHT',1093,592.7);
legendLine(1121,1289,686.7,BLACK); txt('LEFT MAIN GEAR',1299,686.7);
legendLine(1121,1289,716.7,RED,DASH); txt('RIGHT MAIN GEAR',1299,716.7);
legendLine(1121,1289,745.7,BLUE,DASHDOT); txt('NOSE GEAR',1299,745.7);
legendLine(1413,1580,794.3,BLACK); txt('A/P A',1596,794.3);
legendLine(1413,1580,823.3,RED,DASH); txt('A/P B',1596,823.3);
txt('0=AIR',251,748.3);
txt('1=ENGAGED',251,822.7);
txt('1=ENGAGED',251,900);
txt('POSITIVE DEVIATION=AIRPLANE ABOVE THE BEAM (FLY DOWN)',264,1512.4);
block(['G/S DEVIATION','INVALID BEYOND','TRANSMITTER'],1597,1552.7,1611.7);
legendLine(883,1051,1814,BLACK); txt('LEFT',1067,1814);
legendLine(883,1051,1844.6,RED,DASH); txt('RIGHT',1067,1844.6);
txt('POSITIVE COLUMN=PULL',260,1887.3);
txt('NEGATIVE ELEVATOR=TE UP',254,2116.2);
legendLine(806,972,2143.6,BLACK); txt('LEFT',988,2143.6);
legendLine(806,972,2172.2,RED,DASH); txt('RIGHT',988,2172.2);
txt('POSITIVE STAB TRAVEL=AIRPLANE NOSE-UP',247,2298.2);
legendLine(1442,1610,2677.7,BLACK); txt('LEFT',1626,2677.7);
legendLine(1442,1610,2706.7,RED,DASH); txt('RIGHT',1626,2706.7);
txt('TIME (SECONDS)',990,2788,'center');

Plotly.newPlot('chart', traces, layout, {staticPlot:true, displayModeBar:false});
</script></body></html>
